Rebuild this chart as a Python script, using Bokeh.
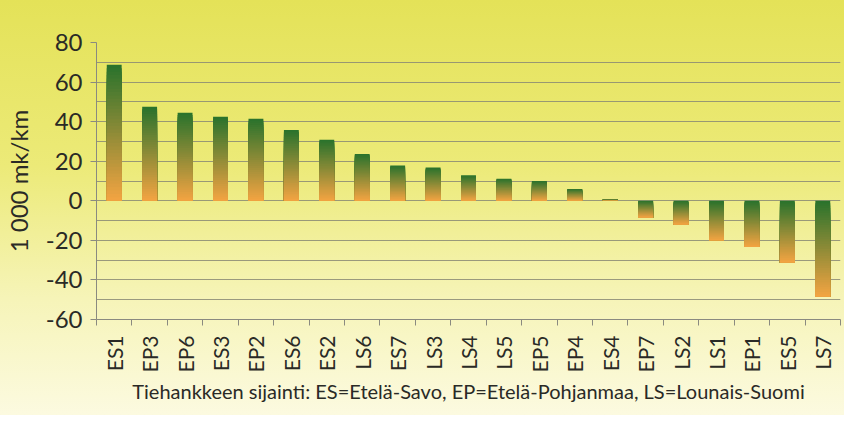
from bokeh.plotting import figure
from bokeh.models import FixedTicker, Range1d
from bokeh.embed import file_html
from bokeh.resources import INLINE

categories = ["ES1", "EP3", "EP6", "ES3", "EP2", "ES6", "ES2", "LS6", "ES7", "LS3",
              "LS4", "LS5", "EP5", "EP4", "ES4", "EP7", "LS2", "LS1", "EP1", "ES5", "LS7"]
values = [68.7, 47.5, 44.5, 42.5, 41.5, 35.8, 30.9, 23.7, 17.8, 16.8,
          12.9, 11.2, 10.0, 6.0, 0.7, -8.4, -12.0, -20.0, -23.3, -31.2, -48.5]
y_ticks = [-60, -40, -20, 0, 20, 40, 60, 80]
y_tick_labels = ["-60", "-40", "-20", "0", "20", "40", "60", "80"]
grid_ticks = list(range(-60, 81, 10))

FONT = "Lato"
n = len(categories)
xs = list(range(1, n + 1))

p = figure(width=844, height=415, output_backend="svg", toolbar_location=None,
           x_range=Range1d(0.5, n + 0.5), y_range=Range1d(-60, 80),
           min_border_left=88, min_border_right=4, min_border_top=42, min_border_bottom=96)
p.border_fill_color = None
p.background_fill_color = None
p.outline_line_color = None
p.styles = {"background": "linear-gradient(to bottom, #e4e258 0%, #ecea78 40%, #f6f4b8 72%, #fcfae0 100%)"}

# gradient bars: green at top -> orange at bottom (overlapping slices, no gaps)
def lerp(c1, c2, t):
    return "#%02x%02x%02x" % tuple(int(round(a + (b - a) * t)) for a, b in zip(c1, c2))

green = (0x28, 0x72, 0x2c)
orange = (0xf4, 0xa4, 0x42)
N = 40
L, R, T, B, C = [], [], [], [], []
w = 0.21
for x, v in zip(xs, values):
    top = max(v, 0.0)
    bot = min(v, 0.0)
    h = top - bot
    for k in range(N):
        t0 = top - h * k / N
        L.append(x - w)
        R.append(x + w)
        T.append(t0)
        B.append(bot)
        C.append(lerp(green, orange, (k + 0.5) / N))
p.quad(left=L, right=R, top=T, bottom=B, fill_color=C, line_color=None)

# grid
p.xgrid.visible = False
p.ygrid.ticker = FixedTicker(ticks=grid_ticks)
p.ygrid.grid_line_color = "#8a8a74"
p.ygrid.grid_line_width = 1
p.ygrid.grid_line_alpha = 0.85

# y axis
ya = p.yaxis[0]
ya.ticker = FixedTicker(ticks=y_ticks)
ya.major_label_overrides = {t: s for t, s in zip(y_ticks, y_tick_labels)}
ya.axis_line_color = "#8a8a80"
ya.major_tick_line_color = "#8a8a80"
ya.major_tick_out = 6
ya.major_tick_in = 0
ya.minor_tick_line_color = None
ya.major_label_text_font = FONT
ya.major_label_text_font_size = "24px"
ya.major_label_text_color = "#2a2a26"
ya.major_label_standoff = 8
ya.axis_label = "1 000 mk/km"
ya.axis_label_text_font = FONT
ya.axis_label_text_font_size = "24px"
ya.axis_label_text_font_style = "normal"
ya.axis_label_text_color = "#2a2a26"
ya.axis_label_standoff = 10

# x axis
xa = p.xaxis[0]
xa.ticker = FixedTicker(ticks=xs, minor_ticks=[x + 0.5 for x in range(0, n + 1)])
xa.major_label_overrides = {x: c for x, c in zip(xs, categories)}
xa.major_label_orientation = 1.5708
xa.major_tick_line_color = None
xa.minor_tick_line_color = "#8a8a80"
xa.minor_tick_out = 6
xa.minor_tick_in = 0
xa.axis_line_color = "#8a8a80"
xa.major_label_text_font = FONT
xa.major_label_text_font_size = "21px"
xa.major_label_text_color = "#2a2a26"
xa.major_label_standoff = 10
xa.axis_label = "Tiehankkeen sijainti: ES=Etelä-Savo, EP=Etelä-Pohjanmaa, LS=Lounais-Suomi"
xa.axis_label_text_font = FONT
xa.axis_label_text_font_size = "20px"
xa.axis_label_text_font_style = "normal"
xa.axis_label_text_color = "#2a2a26"
xa.axis_label_standoff = 4

open("out.html", "w").write(file_html(p, INLINE))
